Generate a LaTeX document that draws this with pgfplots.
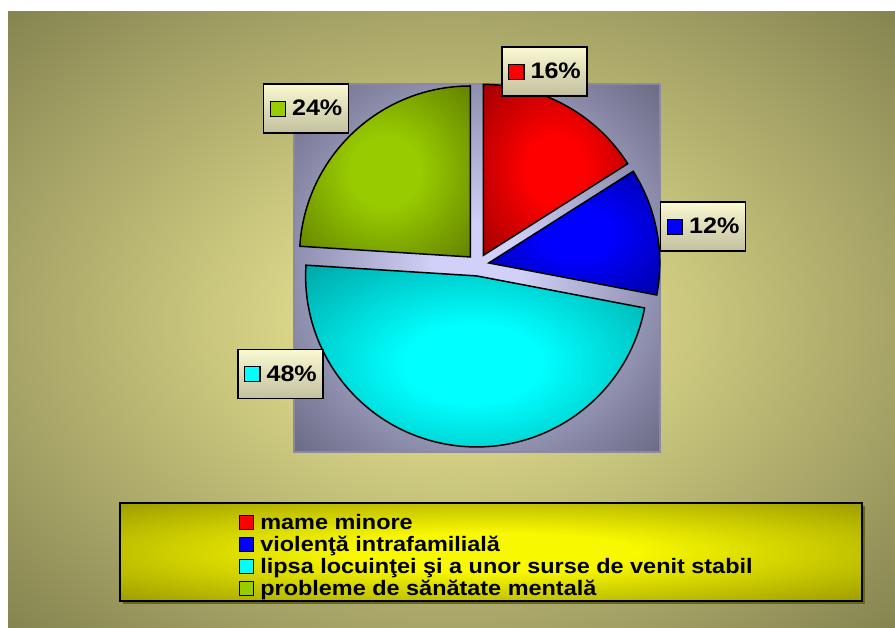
\documentclass[border=0pt]{standalone}
\usepackage{fontspec}
\setmainfont{Liberation Sans}[FakeStretch=1.12]
\usepackage{pgfplots}
\usepackage{pgfplotstable}
\pgfplotsset{compat=1.18}

\definecolor{bgIn}{HTML}{E2DE8E}
\definecolor{bgOut}{HTML}{7A7949}
\definecolor{plIn}{HTML}{D0D0F8}
\definecolor{plOut}{HTML}{5E5E77}
\definecolor{plEdge}{HTML}{8A8AA0}
\definecolor{legIn}{HTML}{F8F800}
\definecolor{legOut}{HTML}{767600}
\definecolor{legShadow}{HTML}{66661E}
\definecolor{boxLight}{HTML}{FBF9D2}
\definecolor{boxDark}{HTML}{C2C09E}
\definecolor{pRed}{HTML}{FF0000}
\definecolor{pRedD}{HTML}{7A0000}
\definecolor{pBlue}{HTML}{0000FF}
\definecolor{pBlueD}{HTML}{00007A}
\definecolor{pCyan}{HTML}{00FFFF}
\definecolor{pCyanD}{HTML}{007F7F}
\definecolor{pGreen}{HTML}{99CC00}
\definecolor{pGreenD}{HTML}{4C6200}

% radial ramps: soft for slices and legend, tight for the two backgrounds
\makeatletter
\pgfdeclareradialshading[tikz@radial@inner,tikz@radial@outer]{soft}{\pgfpointorigin}{%
  color(0bp)=(tikz@radial@inner);color(10bp)=(tikz@radial@inner);
  color(46bp)=(tikz@radial@outer);color(50bp)=(tikz@radial@outer)}
\pgfdeclareradialshading[tikz@radial@inner,tikz@radial@outer]{tight}{\pgfpointorigin}{%
  color(0bp)=(tikz@radial@inner);color(6bp)=(tikz@radial@inner);
  color(39bp)=(tikz@radial@outer);color(50bp)=(tikz@radial@outer)}
\makeatother

\tikzset{lbl/.style={draw=black, line width=1.2bp, shading angle=-45,
    top color=boxLight, bottom color=boxDark,
    minimum width=85bp, minimum height=49bp, inner sep=0pt,
    font=\fontsize{22.5}{24}\selectfont\bfseries}}

\newcommand\mk[1]{{\fboxsep=0pt\fboxrule=1.2bp\fcolorbox{black}{#1}{\rule{0pt}{14bp}\rule{14bp}{0pt}}}}

% value in percent, slice colours, label position (axis units, pie centre = 0,0)
\pgfplotstableread[col sep=comma]{
name,value,light,dark,lx,ly
mame minore,16,pRed,pRedD,66.5,193.5
violenţă intrafamilială,12,pBlue,pBlueD,225,38.5
lipsa locuinţei şi a unor surse de venit stabil,48,pCyan,pCyanD,-197.5,-109
probleme de sănătate mentală,24,pGreen,pGreenD,-172,156.5
}\piedata

\begin{document}
\begin{tikzpicture}
\fill[white] (0bp,0bp) rectangle (895bp,628bp);
\shade[inner color=bgIn, outer color=bgOut, shading=tight] (8bp,0bp) rectangle (895bp,616bp);
\shade[inner color=plIn, outer color=plOut, shading=tight] (294bp,176bp) rectangle (660bp,544bp);
\draw[plEdge, line width=1.2bp] (294bp,176bp) rectangle (660bp,544bp);
\fill[legShadow] (123bp,24bp) rectangle (865bp,122bp);
\shadedraw[draw=black, line width=1.3bp, inner color=legIn, outer color=legOut, shading=soft]
  (120bp,27bp) rectangle (862bp,125bp);

\begin{axis}[
  at={(294bp,176bp)}, anchor=south west,
  width=366bp, height=368bp, scale only axis,
  xmin=-184, xmax=182, ymin=-187, ymax=181,
  hide axis, clip=false, disabledatascaling,
  legend image code/.code={\draw[#1, draw=black, line width=1.2bp] (0bp,-4.5bp) rectangle (14bp,9.5bp);},
  legend cell align=left,
  legend style={at={(-0.1503,-0.1685)}, anchor=north west, draw=none, fill=none,
    inner sep=0pt, row sep=0pt, column sep=6bp,
    font=\fontsize{21}{22}\selectfont\bfseries,
    nodes={inner sep=0pt, text height=15bp, text depth=7bp}},
]
\def\cum{0}
\pgfplotsforeachungrouped \idx in {0,...,3}{%
  \pgfplotstablegetelem{\idx}{value}\of\piedata \let\val\pgfplotsretval
  \pgfplotstablegetelem{\idx}{light}\of\piedata \let\cl\pgfplotsretval
  \pgfplotstablegetelem{\idx}{dark}\of\piedata \let\cd\pgfplotsretval
  \pgfplotstablegetelem{\idx}{lx}\of\piedata \let\lx\pgfplotsretval
  \pgfplotstablegetelem{\idx}{ly}\of\piedata \let\ly\pgfplotsretval
  \pgfplotstablegetelem{\idx}{name}\of\piedata \let\nm\pgfplotsretval
  \pgfmathsetmacro\aS{90-3.6*\cum}
  \pgfmathsetmacro\aE{90-3.6*(\cum+\val)}
  \pgfmathsetmacro\ox{11*cos((\aS+\aE)/2)}
  \pgfmathsetmacro\oy{11*sin((\aS+\aE)/2)}
  \pgfmathsetmacro\px{\ox+171*cos(\aS)}
  \pgfmathsetmacro\py{\oy+171*sin(\aS)}
  \edef\slice{%
    \noexpand\shadedraw[draw=black, line width=1.5bp, inner color=\cl, outer color=\cd, shading=soft]
      (axis cs:\ox,\oy) -- (axis cs:\px,\py) arc[start angle=\aS, end angle=\aE, radius=171] -- cycle;
    \noexpand\node[lbl] at (axis cs:\lx,\ly) {\noexpand\mk{\cl}\noexpand\hspace{6bp}\val\noexpand\%};
    \noexpand\addlegendimage{fill=\cl}
    \noexpand\addlegendentry{\nm}
  }%
  \slice
  \pgfmathsetmacro\cum{\cum+\val}
}
\end{axis}
\end{tikzpicture}
\end{document}
